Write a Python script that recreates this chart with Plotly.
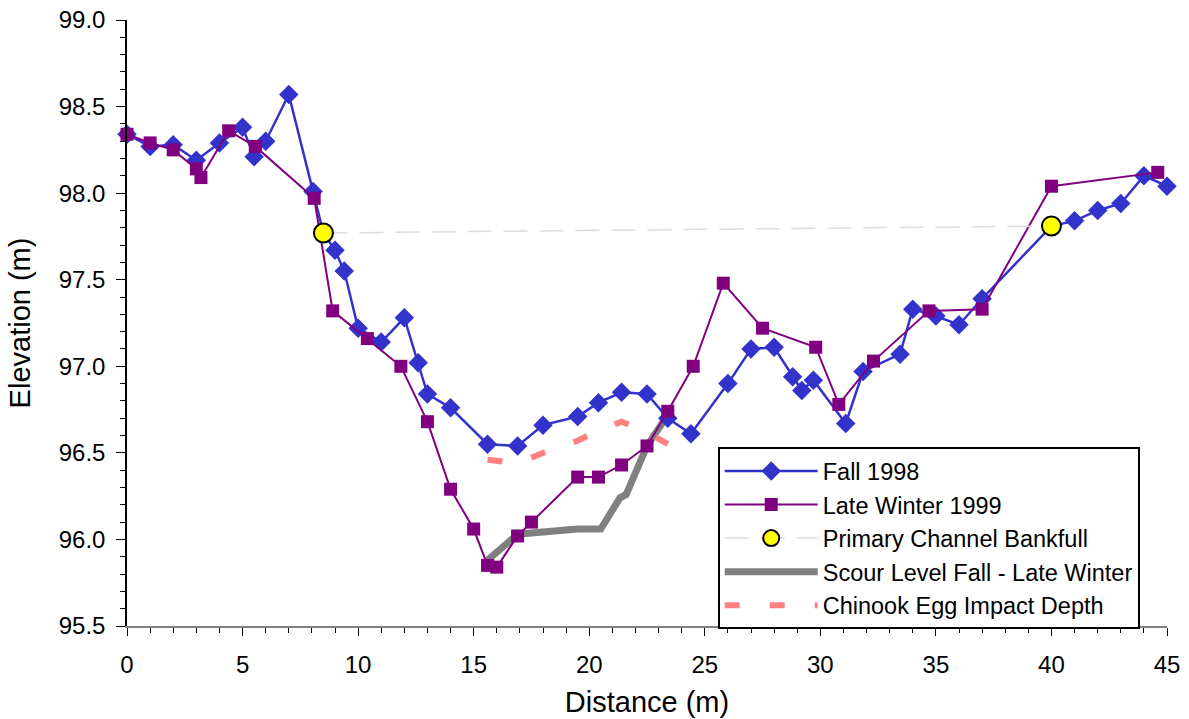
import plotly.graph_objects as go

# Fall 1998 survey
fall_x = [0, 1.0, 2.0, 3.0, 4.0, 5.0, 5.5, 6.0, 7.0, 8.05, 8.5, 9.0, 9.4, 10.0, 11.0, 12.0, 12.6, 13.0,
          14.0, 15.6, 16.9, 18.0, 19.5, 20.4, 21.4, 22.5, 23.4, 24.4, 26.0, 27.0, 28.0, 28.8, 29.2,
          29.7, 31.1, 31.85, 33.45, 34.0, 35.0, 36.0, 37.0, 40.0, 41.0, 42.0, 43.0, 44.0, 45.0]
fall_y = [98.34, 98.27, 98.28, 98.19, 98.29, 98.38, 98.21, 98.30, 98.57, 98.01, 97.77, 97.67, 97.55,
          97.22, 97.14, 97.28, 97.02, 96.84, 96.76, 96.55, 96.54, 96.66, 96.71, 96.79, 96.85, 96.84,
          96.70, 96.61, 96.90, 97.10, 97.11, 96.94, 96.86, 96.92, 96.67, 96.97, 97.07, 97.33, 97.29,
          97.24, 97.39, 97.81, 97.84, 97.90, 97.94, 98.10, 98.04]

# Late Winter 1999 survey
winter_x = [0, 1.0, 2.0, 3.0, 3.2, 4.4, 5.55, 8.1, 8.9, 10.4, 11.85, 13.0, 14.0, 15.0, 15.6, 16.0,
            16.9, 17.5, 19.5, 20.4, 21.4, 22.5, 23.4, 24.5, 25.8, 27.5, 29.8, 30.8, 32.3, 34.7, 37.0,
            40.0, 44.6]
winter_y = [98.34, 98.29, 98.25, 98.14, 98.09, 98.36, 98.27, 97.97, 97.32, 97.16, 97.00, 96.68, 96.29,
            96.06, 95.85, 95.84, 96.02, 96.10, 96.36, 96.36, 96.43, 96.54, 96.74, 97.00, 97.48, 97.22,
            97.11, 96.78, 97.03, 97.32, 97.33, 98.04, 98.12]

# Primary channel bankfull
bank_x = [8.5, 40.0]
bank_y = [97.77, 97.81]

# Scour level
scour_x = [15.6, 16.9, 19.5, 20.5, 21.33, 21.6, 22.5, 23.3]
scour_y = [95.88, 96.03, 96.06, 96.06, 96.24, 96.26, 96.54, 96.70]

# Chinook egg impact depth
egg_x = [15.6, 16.9, 18.0, 19.5, 20.4, 21.4, 22.5, 23.4]
egg_y = [96.46, 96.44, 96.50, 96.57, 96.63, 96.68, 96.62, 96.55]

FONT = "Liberation Sans, Arial, sans-serif"

fig = go.Figure()

fig.add_trace(go.Scatter(x=scour_x, y=scour_y, mode="lines", name="Scour Level Fall - Late Winter",
                         line=dict(color="#808080", width=7), legendrank=4, cliponaxis=False))
fig.add_trace(go.Scatter(x=egg_x, y=egg_y, mode="lines", name="Chinook Egg Impact Depth",
                         line=dict(color="#FF8080", width=6, dash="15px,30px"), legendrank=5,
                         cliponaxis=False))
fig.add_trace(go.Scatter(x=fall_x, y=fall_y, mode="lines+markers", name="Fall 1998",
                         line=dict(color="#3333CC", width=2.5),
                         marker=dict(symbol="diamond", size=15, color="#3333CC"),
                         legendrank=1, cliponaxis=False))
fig.add_trace(go.Scatter(x=winter_x, y=winter_y, mode="lines+markers", name="Late Winter 1999",
                         line=dict(color="#800080", width=2),
                         marker=dict(symbol="square", size=13, color="#800080"),
                         legendrank=2, cliponaxis=False))
fig.add_trace(go.Scatter(x=bank_x, y=bank_y, mode="lines+markers", name="Primary Channel Bankfull",
                         line=dict(color="#DDDDDD", width=1.5, dash="24px,12px"),
                         marker=dict(symbol="circle", size=19, color="#FFFF00",
                                     line=dict(color="black", width=2)),
                         legendrank=3, cliponaxis=False))

fig.update_layout(
    width=1189, height=719,
    margin=dict(l=127, r=22, t=20, b=93),
    paper_bgcolor="white", plot_bgcolor="white",
    font=dict(family=FONT, size=24, color="black"),
    showlegend=True,
    legend=dict(x=0.568, y=0.295, xanchor="left", yanchor="top",
                bordercolor="black", borderwidth=2, bgcolor="white",
                font=dict(family=FONT, size=23.5, color="black"),
                itemwidth=93, tracegroupgap=0),
    xaxis=dict(range=[0, 45], dtick=5, tick0=0, showgrid=False, zeroline=False, automargin=False,
               showline=True, linecolor="#808080", linewidth=1.5,
               ticks="outside", ticklen=8, tickcolor="black", tickwidth=1,
               minor=dict(dtick=1, ticks="outside", ticklen=5, tickcolor="black", tickwidth=1),
               tickfont=dict(family=FONT, size=24), ticklabelstandoff=8,
               title=dict(text="Distance (m)", font=dict(family=FONT, size=29), standoff=15)),
    yaxis=dict(range=[95.5, 99.0], dtick=0.5, tick0=95.5, tickformat=".1f", showgrid=False,
               zeroline=False, showline=True, linecolor="black", linewidth=1.5, automargin=False,
               ticks="outside", ticklen=9, tickcolor="black", tickwidth=1,
               minor=dict(dtick=0.1, ticks="outside", ticklen=5, tickcolor="black", tickwidth=1),
               tickfont=dict(family=FONT, size=24), ticklabelstandoff=6,
               title=dict(text="Elevation (m)", font=dict(family=FONT, size=29), standoff=20)),
)

fig.write_html("out.html")
